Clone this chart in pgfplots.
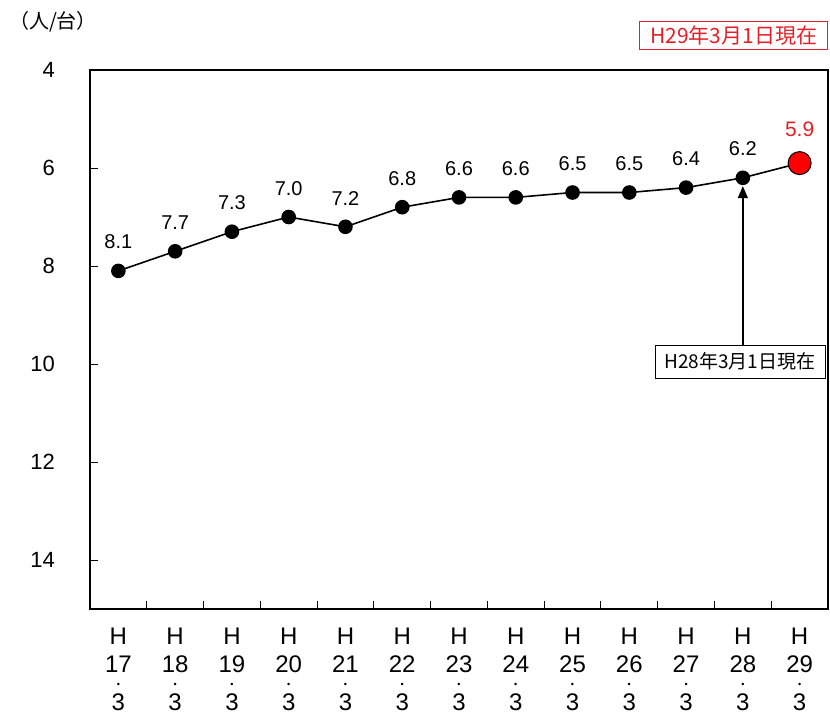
\documentclass[border=0pt]{standalone}
\usepackage{fontspec}
\setmainfont{Liberation Sans}
\newfontfamily\jp{Noto Sans CJK JP}
\usepackage{pgfplots}
\pgfplotsset{compat=1.18}
\usetikzlibrary{arrows.meta}
\definecolor{lblred}{RGB}{228,32,38}
\newcommand\xl[1]{H\\#1\\[-13bp]{\fontsize{9bp}{9bp}\selectfont •}\\[-5bp]3}

\begin{document}
\begin{tikzpicture}
\begin{axis}[
  scale only axis, width=738bp, height=539bp,
  xmin=16.5, xmax=29.5, ymin=4, ymax=15, y dir=reverse,
  axis line style={line width=1.2bp},
  xtick={17,...,29},
  xticklabels={\xl{17},\xl{18},\xl{19},\xl{20},\xl{21},\xl{22},\xl{23},\xl{24},\xl{25},\xl{26},\xl{27},\xl{28},\xl{29}},
  every major x tick/.append style={draw=none},
  minor xtick={17.5,18.5,...,28.5},
  major tick length=8bp, minor tick length=8bp,
  tick style={line width=1bp, black},
  xtick pos=bottom, ytick pos=left,
  ytick={4,6,...,14},
  yticklabel style={font=\fontsize{22bp}{26bp}\selectfont, inner xsep=0pt, xshift=-35bp},
  xticklabel style={font=\fontsize{24bp}{28bp}\selectfont, align=center, inner ysep=0pt, yshift=-19bp},
  /pgf/number format/assume math mode=true,
  clip=false,
]
\addplot[black, line width=1.6bp, mark=*, mark size=6.5bp, mark options={fill=black},
  nodes near coords, point meta=explicit symbolic,
  every node near coord/.style={font=\fontsize{20bp}{24bp}\selectfont, inner sep=0pt, anchor=south, yshift=21bp}]
  coordinates {
  (17,8.1)[8.1] (18,7.7)[7.7] (19,7.3)[7.3] (20,7.0)[7.0] (21,7.2)[7.2]
  (22,6.8)[6.8] (23,6.6)[6.6] (24,6.6)[6.6] (25,6.5)[6.5] (26,6.5)[6.5]
  (27,6.4)[6.4] (28,6.2)[6.2] (29,5.9)[]
  };
\addplot[only marks, mark=*, mark size=11.5bp, mark options={fill=red, draw=black, line width=1bp},
  nodes near coords, point meta=explicit symbolic,
  every node near coord/.style={lblred, font=\fontsize{21bp}{24bp}\selectfont, inner sep=0pt, anchor=south, yshift=26bp}]
  coordinates {(29,5.9)[5.9]};
\node[draw=black, line width=1bp, fill=white, font=\jp\fontsize{19bp}{22bp}\selectfont,
  minimum width=170bp, minimum height=33bp, inner sep=0pt] at (axis cs:27.95,9.95) {H28年3月1日現在};
\draw[line width=1.3bp, -{Triangle[length=12bp,width=10bp]}] (axis cs:28,9.61) -- (axis cs:28,6.37);
\end{axis}
\node[font=\jp\fontsize{20bp}{24bp}\selectfont] at ([shift={(-37bp,48bp)}]current axis.north west) {（人/台）};
\node[draw=lblred, line width=0.8bp, text=lblred, font=\jp\fontsize{21bp}{24bp}\selectfont,
  minimum width=188bp, minimum height=28bp, inner sep=0pt, anchor=south east]
  at ([yshift=20bp]current axis.north east) {H29年3月1日現在};
\pgfresetboundingbox
\path ([shift={(-90bp,-108bp)}]current axis.south west) rectangle ([shift={(2bp,70bp)}]current axis.north east);
\end{tikzpicture}
\end{document}
